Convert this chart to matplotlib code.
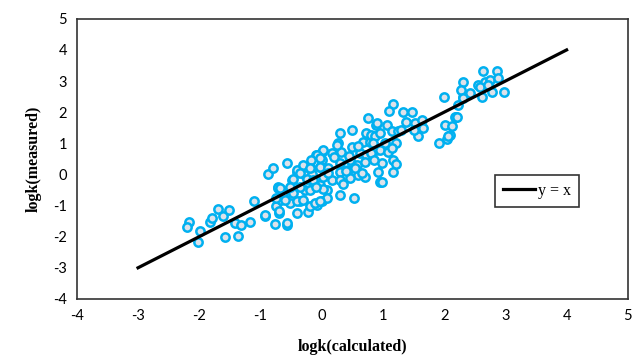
import numpy as np
import matplotlib
matplotlib.use('Agg')
import matplotlib.pyplot as plt

plt.rcParams['axes.unicode_minus'] = False

# logk values
x_calc = [-2.17, -2.20, -1.99, -2.02, -1.83, -1.79, -1.70, -1.61, -1.52, -1.58,
          -1.42, -1.31, -1.36, -1.17, -1.10, -0.93, -0.76, -0.70, -0.56, -0.88,
          -0.79, -0.57, -0.72, -0.75, -0.66, -0.60, -0.52, -0.49, -0.52, -0.71,
          -0.41, -0.47, -0.19, -0.03, -0.09, 0.00, -0.27, -0.16, -0.24, 0.00,
          -0.63, -0.47, -0.36, -0.69, -0.93, -0.57, -0.41, -0.22, -0.19, -0.07,
          0.00, -0.03, -0.14, -0.27, 0.08, 0.76, 0.89, 0.30, 0.50, 0.73,
          0.68, 0.79, 0.27, 0.02, 0.16, -0.08, 0.32, 0.49, 0.62, 0.73,
          0.89, -0.03, -0.17, -0.41, -0.30, -0.19, -0.03, 0.11, 0.30, 0.46,
          0.58, 0.71, 0.30, 0.43, 0.60, 0.71, 0.02, -0.14, 0.16, 0.30,
          0.46, -0.68, -0.52, -0.36, -0.19, 0.02, 0.08, 0.30, 0.52, -0.74,
          -0.60, -0.41, -0.30, -0.11, -0.03, 0.95, 1.99, 1.17, 1.10, 1.33,
          1.47, 0.90, 1.06, 1.14, 1.38, 1.52, 1.63, 1.66, 1.58, 1.50,
          1.25, 1.30, 0.81, 0.87, 0.95, 0.84, 1.03, 1.22, 0.95, 1.09,
          1.14, 2.01, 2.12, 2.20, 2.31, 2.23, 2.09, 2.04, 1.92, 0.98,
          1.17, 1.21, 0.92, 1.17, 0.98, 0.81, 2.42, 2.31, 2.28, 2.31,
          2.63, 2.56, 2.67, 2.75, 2.86, 2.88, 2.78, 2.97, 2.61, 2.58,
          2.72, 2.18, 2.21, 2.07, 0.20, 0.40, 0.55, 0.65, 0.85, 0.10,
          -0.10, 0.35, 0.60, 0.25, -0.35, 0.45]
y_meas = [-1.52, -1.68, -1.81, -2.16, -1.52, -1.41, -1.12, -1.33, -1.14, -2.00,
          -1.55, -1.62, -1.98, -1.52, -0.84, -1.33, -1.59, -1.23, -1.62, 0.02,
          0.20, 0.38, -0.44, -1.03, -0.82, -0.66, -0.93, -0.18, -0.44, -0.42,
          0.09, -0.15, 0.23, 0.25, 0.63, 0.73, -0.02, 0.02, -0.15, 0.47,
          -0.60, -0.60, -0.87, -1.16, -1.30, -1.57, -1.25, -1.20, -1.03, -0.98,
          -0.87, -0.34, -0.39, -0.50, -0.50, 1.81, 1.59, 1.32, 1.43, 1.32,
          1.05, 1.05, 1.00, 0.79, 0.70, 0.63, 0.73, 0.89, 0.68, 0.63,
          0.79, 0.52, 0.47, 0.14, 0.31, 0.20, 0.25, 0.20, 0.36, 0.47,
          0.31, 0.41, 0.09, 0.14, -0.02, -0.07, -0.07, -0.18, -0.18, -0.18,
          -0.12, -0.44, -0.39, -0.41, -0.50, -0.48, -0.77, -0.66, -0.77, -0.77,
          -0.82, -0.87, -0.82, -0.93, -0.87, -0.23, 2.48, 2.27, 2.05, 2.02,
          2.02, 1.65, 1.59, 1.38, 1.70, 1.65, 1.75, 1.49, 1.22, 1.43,
          1.38, 1.43, 1.27, 1.22, 1.32, 1.00, 1.00, 1.00, 0.79, 0.73,
          0.84, 1.59, 1.54, 1.86, 2.50, 2.23, 1.27, 1.13, 1.00, 0.38,
          0.47, 0.34, 0.09, 0.09, -0.23, 0.68, 2.61, 2.98, 2.72, 2.47,
          3.33, 2.88, 2.98, 3.04, 3.33, 3.09, 2.66, 2.66, 2.50, 2.82,
          2.88, 1.86, 1.86, 1.22, 0.55, 0.10, 0.20, 0.05, 0.45, 0.05,
          -0.40, -0.30, 0.90, 0.95, 0.05, 0.60]
line_x = [-3, 4]
line_y = [-3, 4]

fig = plt.figure(figsize=(6.4, 3.55), dpi=100)
ax = fig.add_axes([0.120, 0.158, 0.861, 0.789])

ax.plot(x_calc, y_meas, 'o', markersize=6.0, markeredgewidth=1.8,
        markeredgecolor='#00B0F0', markerfacecolor='#DDE2EA', linestyle='none',
        zorder=2)
ax.plot(line_x, line_y, '-', color='black', linewidth=2.3, label='y = x', zorder=3)

ax.set_xlim(-4, 5)
ax.set_ylim(-4, 5)
ax.set_xticks(range(-4, 6))
ax.set_yticks(range(-4, 6))
ax.tick_params(length=0, pad=7, labelsize=10.5)
for lab in ax.get_xticklabels() + ax.get_yticklabels():
    lab.set_family('Lato')
for s in ax.spines.values():
    s.set_color('#333333')
    s.set_linewidth(1.2)

ax.set_xlabel('logk(calculated)', fontfamily='Liberation Serif', fontweight='bold',
              fontsize=11.5, labelpad=12)
ax.set_ylabel('logk(measured)', fontfamily='Liberation Serif', fontweight='bold',
              fontsize=11.5, labelpad=8)

leg = ax.legend(loc='center left', bbox_to_anchor=(0.745, 0.385),
                prop={'family': 'Liberation Serif', 'size': 11.5},
                frameon=True, fancybox=False, handlelength=2.0,
                handletextpad=0.2, borderpad=0.5)
leg.get_frame().set_edgecolor('black')
leg.get_frame().set_linewidth(1.2)

fig.savefig('out.png', dpi=100)
